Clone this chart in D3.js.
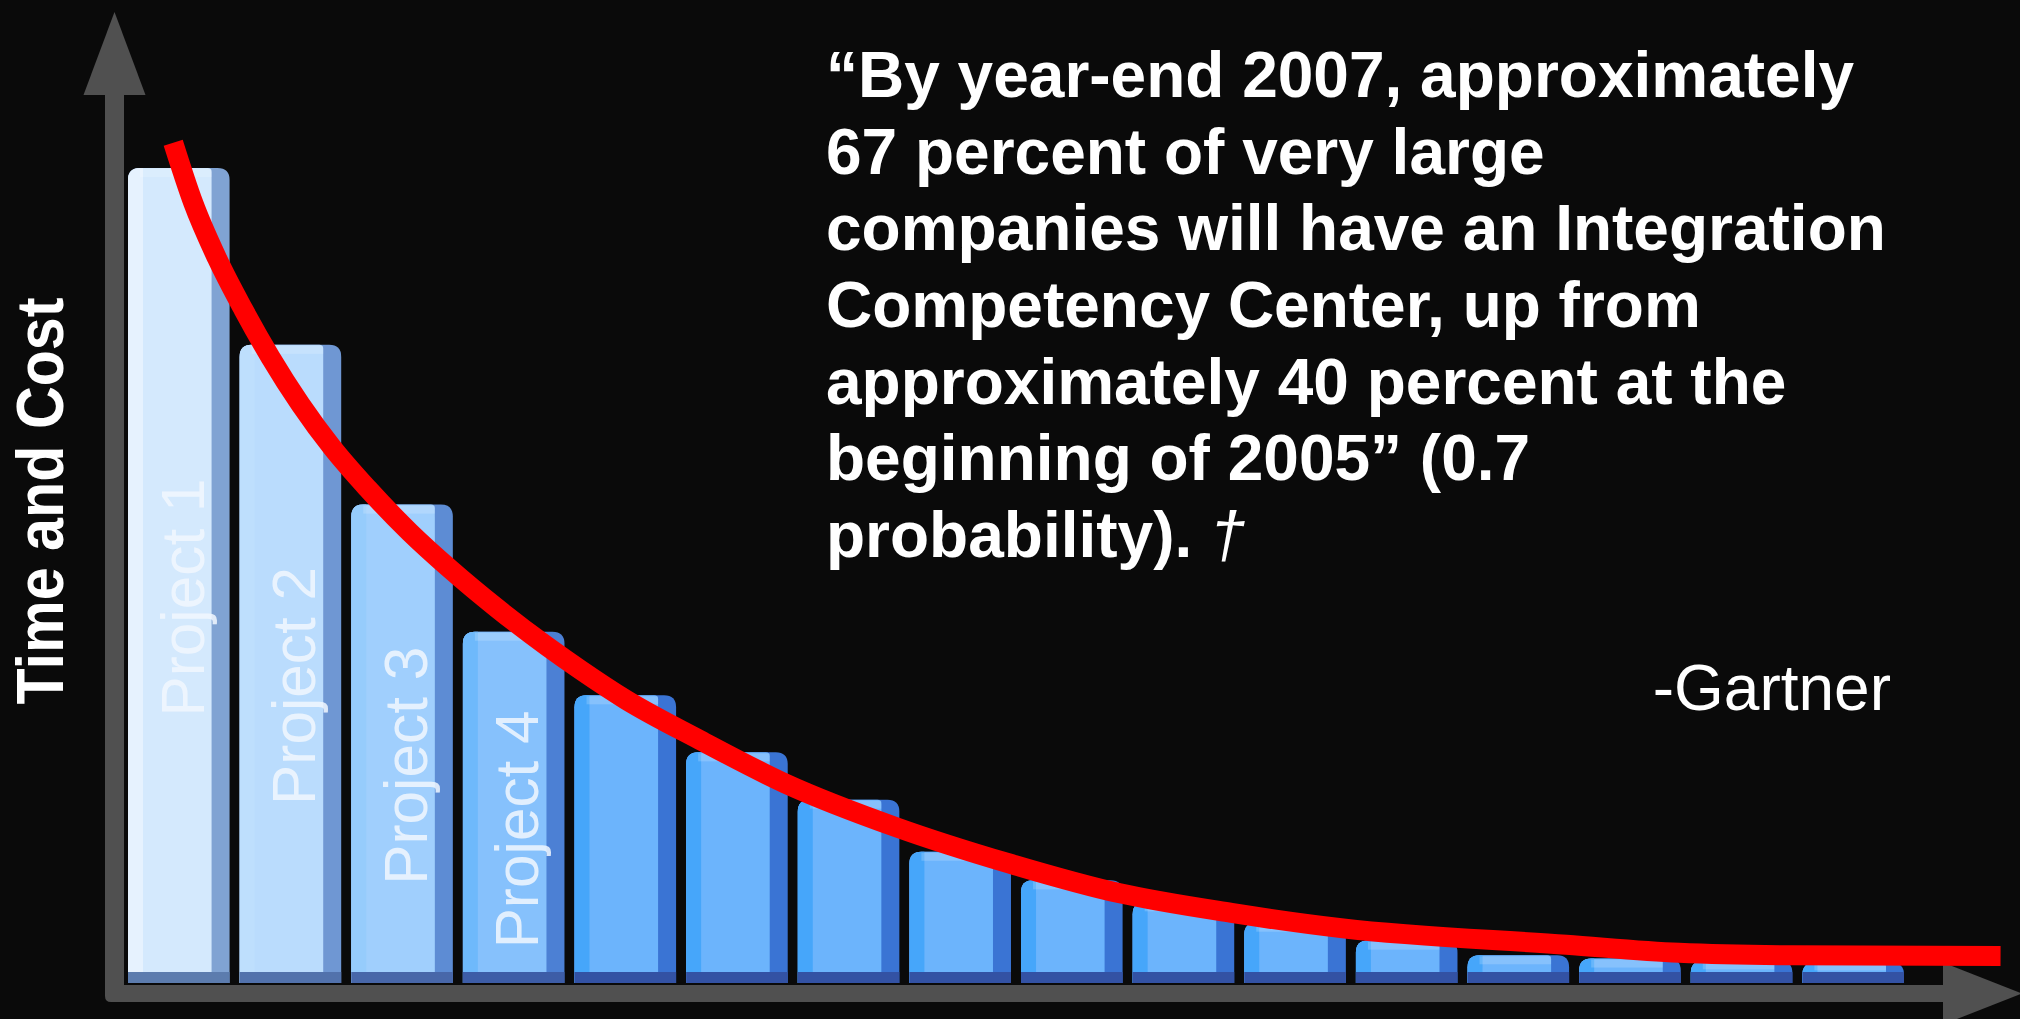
<!DOCTYPE html>
<html>
<head>
<meta charset="utf-8">
<script src="https://cdn.jsdelivr.net/npm/d3@7"></script>
<style>
  html, body { margin: 0; padding: 0; background: #0a0a0a; overflow: hidden; }
  svg { display: block; }
</style>
</head>
<body>
<script>
// bars (one per project, only the first four are named)
var categories = ["p1","p2","p3","p4","p5","p6","p7","p8","p9","p10","p11","p12","p13","p14","p15","p16"];
var barLabels = ["Project 1", "Project 2", "Project 3", "Project 4"];
var barValues = [100, 78.3, 58.7, 43.1, 35.3, 28.3, 22.5, 16.1, 12.6, 9.9, 7.4, 5.2, 3.4, 3.0, 2.7, 2.5];

// red trend curve, position in bar units / value
var trendPos = [-0.05, 0.13, 0.34, 0.58, 0.82, 1.09, 1.38, 1.69, 2.07, 2.43, 2.85, 3.30, 3.60, 4.00, 4.67, 5.43, 6.43, 7.43, 8.43, 9.43, 10.43, 12.43, 13.44, 14.45, 16.32];
var trendValues = [103.1, 95.7, 89.0, 82.6, 76.8, 71.0, 65.6, 60.7, 55.3, 50.8, 46.0, 41.3, 38.4, 34.8, 29.8, 24.5, 19.1, 14.7, 11.0, 8.6, 6.7, 4.7, 3.7, 3.4, 3.3];

var yTitle = "Time and Cost";
var quoteLines = [
    "\u201cBy year-end 2007, approximately",
    "67 percent of very large",
    "companies will have an Integration",
    "Competency Center, up from",
    "approximately 40 percent at the",
    "beginning of 2005\u201d (0.7",
    "probability). \u2020"
];
var source = "-Gartner";

var W = 2020, H = 1019;
var font = "'Liberation Sans', Arial, sans-serif";
var axisColor = "#505050";

var svg = d3.select("body").append("svg")
    .attr("width", W)
    .attr("height", H);

svg.append("rect").attr("width", W).attr("height", H).attr("fill", "#0a0a0a");

var xBand = d3.scaleBand()
    .domain(categories)
    .range([128, 1904])
    .paddingInner(0.09)
    .paddingOuter(0);
var bw = xBand.bandwidth();

var xPos = d3.scaleLinear()
    .domain([0, categories.length - 1])
    .range([xBand(categories[0]) + bw / 2, xBand(categories[categories.length - 1]) + bw / 2]);

var yScale = d3.scaleLinear()
    .domain([0, 100])
    .range([983, 168]);

var base = yScale(0);

// colours shift from pale to saturated blue over the first bars
function tOf(i) { return Math.min(i / 4, 1); }
var frontCol = d3.interpolateRgb("#d4e9fd", "#6cb4fc");
var leftCol = d3.interpolateRgb("#e6f2fe", "#46a6fa");
var sideCol = d3.interpolateRgb("#80a3d3", "#3a74d4");
var bottomCol = d3.interpolateRgb("#5c7cae", "#3352a4");

function roundTop(x, y, w, h, rl, rr) {
    return "M" + x + "," + (y + h) +
        "V" + (y + rl) +
        "Q" + x + "," + y + " " + (x + rl) + "," + y +
        "H" + (x + w - rr) +
        "Q" + (x + w) + "," + y + " " + (x + w) + "," + (y + rr) +
        "V" + (y + h) + "Z";
}

var barData = categories.map(function(c, i) {
    return { id: c, i: i, value: barValues[i], label: barLabels[i] || "" };
});

var barGroup = svg.append("g").attr("class", "bars");

var bar = barGroup.selectAll(".bar")
    .data(barData)
    .enter()
    .append("g")
    .attr("class", "bar");

// whole bar in the side colour
bar.append("path")
    .attr("d", function(d) {
        var x = xBand(d.id), y = yScale(d.value);
        return roundTop(x, y, bw, base - y, 12, 12);
    })
    .attr("fill", function(d) { return sideCol(tOf(d.i)); });

// front face
bar.append("path")
    .attr("d", function(d) {
        var x = xBand(d.id), y = yScale(d.value);
        return roundTop(x, y, bw - 18, base - y, 12, 4);
    })
    .attr("fill", function(d) { return frontCol(tOf(d.i)); });

// left bevel
bar.append("path")
    .attr("d", function(d) {
        var x = xBand(d.id), y = yScale(d.value);
        return roundTop(x, y, 15, base - y, 12, 0);
    })
    .attr("fill", function(d) { return leftCol(tOf(d.i)); });

// top highlight
bar.append("rect")
    .attr("x", function(d) { return xBand(d.id) + 12; })
    .attr("y", function(d) { return yScale(d.value) + 1; })
    .attr("width", bw - 30)
    .attr("height", function(d) { return Math.min(8, (base - yScale(d.value)) / 3); })
    .attr("fill", "#ffffff")
    .attr("opacity", 0.18);

// bottom strip
bar.append("rect")
    .attr("x", function(d) { return xBand(d.id); })
    .attr("y", base - 11)
    .attr("width", bw)
    .attr("height", 11)
    .attr("fill", function(d) { return bottomCol(tOf(d.i)); });

// project labels on the first bars
barGroup.selectAll(".barLabel")
    .data(barData.filter(function(d) { return d.label !== ""; }))
    .enter()
    .append("text")
    .attr("class", "barLabel")
    .attr("transform", function(d) {
        var cx = xBand(d.id) + bw - 26;
        var cy = (yScale(d.value) + base) / 2 + 22;
        return "translate(" + cx + "," + cy + ") rotate(-90)";
    })
    .attr("text-anchor", "middle")
    .attr("font-family", font)
    .attr("font-size", 62)
    .attr("fill", "#f2f8ff")
    .attr("opacity", 0.85)
    .attr("textLength", 238)
    .attr("lengthAdjust", "spacingAndGlyphs")
    .text(function(d) { return d.label; });

// axes: thick grey arrows
var axisG = svg.append("g").attr("class", "axes");
var yAxisX = 105, yAxisW = 19;
var xAxisY = base + 2, xAxisH = 17;

axisG.append("path")
    .attr("d", "M" + yAxisX + ",95" +
        "V" + (xAxisY + xAxisH - 6) +
        "Q" + yAxisX + "," + (xAxisY + xAxisH) + " " + (yAxisX + 6) + "," + (xAxisY + xAxisH) +
        "H1945V" + xAxisY +
        "H" + (yAxisX + yAxisW) + "V95Z")
    .attr("fill", axisColor);

axisG.append("path")
    .attr("d", "M" + (yAxisX + yAxisW / 2) + ",12L" + (yAxisX + yAxisW / 2 + 31) + ",95L" + (yAxisX + yAxisW / 2 - 31) + ",95Z")
    .attr("fill", axisColor);

axisG.append("path")
    .attr("d", "M2022," + (xAxisY + xAxisH / 2) + "L1943," + (xAxisY + xAxisH / 2 - 31) + "L1943," + (xAxisY + xAxisH / 2 + 31) + "Z")
    .attr("fill", axisColor);

// trend curve
var trend = trendPos.map(function(p, i) { return [p, trendValues[i]]; });
var lineGen = d3.line()
    .x(function(d) { return xPos(d[0]); })
    .y(function(d) { return yScale(d[1]); })
    .curve(d3.curveMonotoneX);

svg.append("path")
    .attr("d", lineGen(trend))
    .attr("fill", "none")
    .attr("stroke", "#ff0000")
    .attr("stroke-width", 20)
    .attr("stroke-linecap", "butt");

// y title
svg.append("text")
    .attr("transform", "translate(63,501) rotate(-90)")
    .attr("text-anchor", "middle")
    .attr("font-family", font)
    .attr("font-weight", "bold")
    .attr("font-size", 66)
    .attr("fill", "#ffffff")
    .attr("textLength", 407)
    .attr("lengthAdjust", "spacingAndGlyphs")
    .text(yTitle);

// quote
var quote = svg.append("g").attr("class", "quote");
quoteLines.forEach(function(line, i) {
    var t = quote.append("text")
        .attr("x", 826)
        .attr("y", 97 + i * 76.67)
        .attr("font-family", font)
        .attr("font-weight", "bold")
        .attr("font-size", 64)
        .attr("fill", "#ffffff");
    var parts = line.split("\u2020");
    t.append("tspan").text(parts[0]);
    if (parts.length > 1) {
        t.append("tspan")
            .attr("font-weight", "normal")
            .attr("font-style", "italic")
            .text("\u2020");
    }
});

svg.append("text")
    .attr("x", 1891)
    .attr("y", 710)
    .attr("text-anchor", "end")
    .attr("font-family", font)
    .attr("font-size", 64)
    .attr("fill", "#ffffff")
    .text(source);
</script>
</body>
</html>
